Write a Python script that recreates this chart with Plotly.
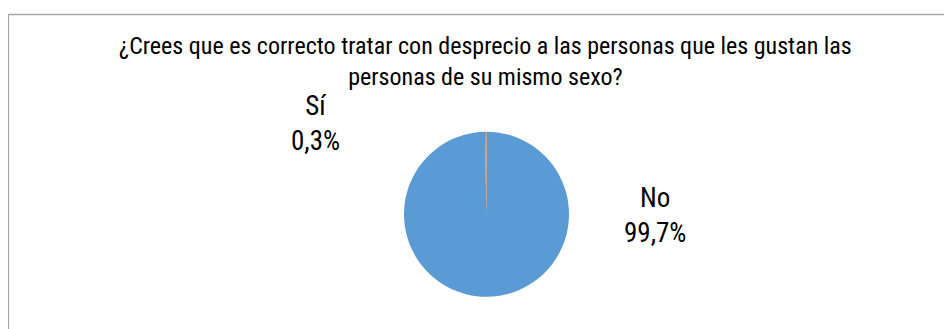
import plotly.graph_objects as go

title_text = "¿Crees que es correcto tratar con desprecio a las personas que les gustan las<br>personas de su mismo sexo?"
categories = ["No", "Sí"]
percentages = [99.7, 0.3]
colors = ["#5B9BD5", "#ED7D31"]

W, H = 952, 329
OFF = 8  # page body margin
FONT = "Roboto Condensed, Liberation Sans Narrow, sans-serif"


def px(x):
    return (x - OFF) / W


def py(y):
    return 1 - (y - OFF) / H


fig = go.Figure(go.Pie(
    labels=categories,
    values=percentages,
    sort=False,
    direction="clockwise",
    rotation=0,
    marker=dict(colors=colors, line=dict(width=0)),
    textinfo="none",
    hoverinfo="label+percent",
    showlegend=False,
    domain=dict(x=[px(404), px(569)], y=[py(297), py(131.5)]),
))


def fmt(v):
    return f"{v:.1f}".replace(".", ",") + "%"


label_pos = {"No": (655, 215), "Sí": (315, 124)}
for cat, val in zip(categories, percentages):
    x, y = label_pos[cat]
    fig.add_annotation(
        x=px(x), y=py(y), xref="paper", yref="paper",
        text=f"{cat}<br>{fmt(val)}", showarrow=False,
        font=dict(family=FONT, size=27, color="#000000"),
        xanchor="center", yanchor="middle", align="center",
    )

fig.add_annotation(
    x=px(485.5), y=py(61), xref="paper", yref="paper",
    text=title_text, showarrow=False,
    font=dict(family=FONT, size=24, color="#000000"),
    xanchor="center", yanchor="middle", align="center",
)

fig.add_shape(
    type="rect", xref="paper", yref="paper",
    x0=px(8.5), x1=1.05, y0=-0.05, y1=py(14.5),
    line=dict(color="#A6A6A6", width=1.3), fillcolor="rgba(0,0,0,0)",
)

fig.update_layout(
    width=W, height=H,
    margin=dict(l=0, r=0, t=0, b=0),
    paper_bgcolor="white", plot_bgcolor="white",
)

fig.write_html("out.html")
